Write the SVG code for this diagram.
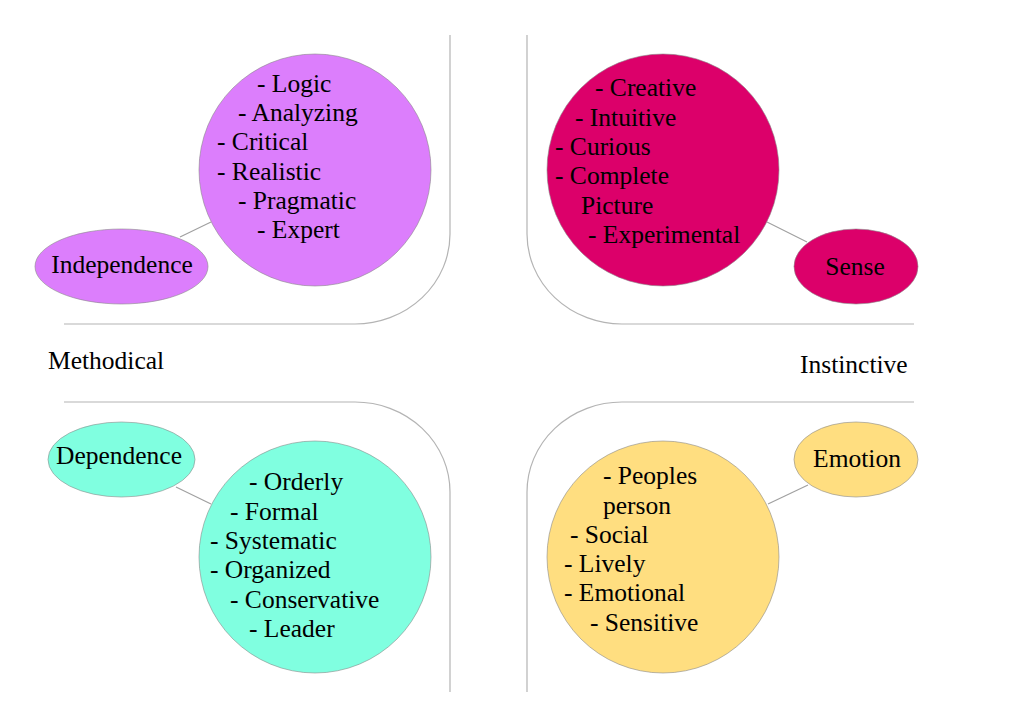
<svg xmlns="http://www.w3.org/2000/svg" width="1024" height="725" viewBox="0 0 1024 725">
<style>
.q{fill:none;stroke:#b4b4b4;stroke-width:1.2}
.c{stroke:#a0a0a0;stroke-width:1.2}
.t{font-family:"Liberation Serif","Times New Roman",serif;font-size:25.5px;fill:#000}
.n{stroke:#8a8a8a;stroke-width:0.6}
.p{fill:#DC7EFC}
.m{fill:#DC006A}
.a{fill:#80FFE0}
.y{fill:#FFDE80}
</style>
<rect width="1024" height="725" fill="#fff"/>
<g id="quadrants">
<path class="q" d="M450,35 V234 A95,90 0 0 1 355,324 H64"/>
<path class="q" d="M527,35 V234 A95,90 0 0 0 622,324 H914"/>
<path class="q" d="M64,402 H355 A95,90 0 0 1 450,492 V692"/>
<path class="q" d="M914,402 H622 A95,90 0 0 0 527,492 V692"/>
</g>
<g id="connectors">
<line class="c" x1="180" y1="237" x2="211" y2="222"/>
<line class="c" x1="767" y1="222" x2="807" y2="242"/>
<line class="c" x1="176" y1="487" x2="211" y2="504"/>
<line class="c" x1="768" y1="504" x2="808" y2="485"/>
</g>
<g id="methodical-label"><text class="t" x="48" y="369">Methodical</text></g>
<g id="instinctive-label"><text class="t" x="800" y="373">Instinctive</text></g>
<g id="tl-circle">
<circle class="p n" cx="315" cy="170" r="116"/>
<text class="t" x="257" y="92">- Logic</text>
<text class="t" x="238" y="121">- Analyzing</text>
<text class="t" x="217" y="150">- Critical</text>
<text class="t" x="217" y="180">- Realistic</text>
<text class="t" x="238" y="209">- Pragmatic</text>
<text class="t" x="257" y="238">- Expert</text>
</g>
<g id="independence">
<ellipse class="p n" cx="121.5" cy="266.5" rx="86.5" ry="37.5"/>
<text class="t" x="122" y="273" text-anchor="middle">Independence</text>
</g>
<g id="tr-circle">
<circle class="m n" cx="663" cy="170" r="116"/>
<text class="t" x="595" y="96">- Creative</text>
<text class="t" x="575" y="126">- Intuitive</text>
<text class="t" x="555" y="155">- Curious</text>
<text class="t" x="555" y="184">- Complete</text>
<text class="t" x="581" y="214">Picture</text>
<text class="t" x="588" y="243">- Experimental</text>
</g>
<g id="sense">
<ellipse class="m n" cx="856" cy="266.5" rx="62" ry="37.5"/>
<text class="t" x="855" y="275" text-anchor="middle">Sense</text>
</g>
<g id="bl-circle">
<circle class="a n" cx="315" cy="557" r="116"/>
<text class="t" x="249" y="490">- Orderly</text>
<text class="t" x="230" y="520">- Formal</text>
<text class="t" x="210" y="549">- Systematic</text>
<text class="t" x="210" y="578">- Organized</text>
<text class="t" x="230" y="608">- Conservative</text>
<text class="t" x="249" y="637">- Leader</text>
</g>
<g id="dependence">
<ellipse class="a n" cx="121.5" cy="459.5" rx="73.5" ry="37.5"/>
<text class="t" x="119" y="464" text-anchor="middle">Dependence</text>
</g>
<g id="br-circle">
<circle class="y n" cx="663" cy="557" r="116"/>
<text class="t" x="603" y="484">- Peoples</text>
<text class="t" x="603" y="514">person</text>
<text class="t" x="570" y="543">- Social</text>
<text class="t" x="564" y="572">- Lively</text>
<text class="t" x="564" y="601">- Emotional</text>
<text class="t" x="590" y="631">- Sensitive</text>
</g>
<g id="emotion">
<ellipse class="y n" cx="856" cy="459.5" rx="62" ry="37.5"/>
<text class="t" x="857" y="467" text-anchor="middle">Emotion</text>
</g>
</svg>
